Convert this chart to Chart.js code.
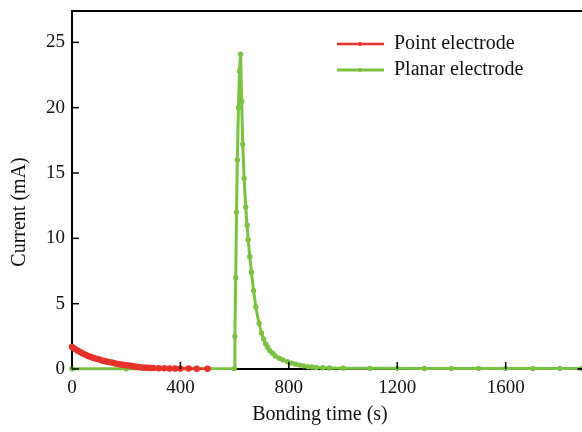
<!DOCTYPE html>
<html>
<head>
<meta charset="utf-8">
<script src="https://cdn.jsdelivr.net/npm/chart.js@4.4.0/dist/chart.umd.min.js"></script>
<style>
  body { margin: 0; background: #fff; }
  canvas { display: block; }
</style>
</head>
<body>
<canvas id="chart" width="582" height="432"></canvas>
<script>
// Point electrode (red)
const timePoint = [0, 10, 20, 30, 40, 50, 60, 70, 80, 90, 100, 110, 120, 130, 140, 150, 160, 170, 180, 190, 200, 210, 220, 230, 240, 250, 260, 270, 280, 290, 300, 320, 340, 360, 380, 400, 430, 460, 500];
const currentPoint = [1.68, 1.55, 1.42, 1.3, 1.19, 1.09, 1.0, 0.92, 0.85, 0.78, 0.72, 0.66, 0.61, 0.56, 0.51, 0.47, 0.43, 0.39, 0.35, 0.32, 0.29, 0.26, 0.23, 0.2, 0.17, 0.14, 0.12, 0.1, 0.09, 0.08, 0.07, 0.06, 0.05, 0.04, 0.04, 0.03, 0.03, 0.02, 0.02];

// Planar electrode (green)
const timePlanar = [0, 200, 400, 598, 601, 604, 607, 610, 614, 618, 622, 626, 630, 635, 641, 646, 650, 656, 662, 670, 678, 690, 699, 707, 715, 722, 730, 740, 750, 765, 778, 795, 810, 825, 840, 855, 870, 885, 900, 925, 950, 1000, 1100, 1200, 1300, 1400, 1500, 1600, 1700, 1800, 1880];
const currentPlanar = [0.02, 0.02, 0.02, 0.03, 2.5, 7, 12, 16, 20, 22.8, 24.1, 20.5, 17.2, 14.6, 12.4, 11.0, 9.9, 8.6, 7.4, 6.0, 4.75, 3.5, 2.76, 2.3, 1.9, 1.65, 1.4, 1.2, 1.0, 0.82, 0.7, 0.55, 0.45, 0.37, 0.3, 0.24, 0.18, 0.15, 0.12, 0.1, 0.08, 0.06, 0.05, 0.05, 0.04, 0.04, 0.04, 0.04, 0.04, 0.04, 0.04];

const xTicks = [0, 400, 800, 1200, 1600];
const yTicks = [0, 5, 10, 15, 20, 25];

const serif = '"Liberation Serif", "DejaVu Serif", serif';

function toPoints(xs, ys) {
    return xs.map((x, i) => ({ x: x, y: ys[i] }));
}

// frame, inward ticks, axis titles and legend
const decorations = {
    id: 'decorations',
    afterDraw(chart) {
        const ctx = chart.ctx;
        const area = chart.chartArea;
        const xs = chart.scales.x;
        const ys = chart.scales.y;
        ctx.save();
        ctx.strokeStyle = '#000';
        ctx.lineWidth = 2;
        ctx.beginPath();
        ctx.moveTo(area.left - 1, area.top);
        ctx.lineTo(582, area.top);
        ctx.moveTo(area.right, area.bottom);
        ctx.lineTo(582, area.bottom);
        ctx.stroke();

        ctx.lineWidth = 1.5;
        xTicks.forEach(v => {
            const px = xs.getPixelForValue(v);
            ctx.beginPath();
            ctx.moveTo(px, area.bottom);
            ctx.lineTo(px, area.bottom - 7);
            ctx.stroke();
        });
        yTicks.forEach(v => {
            const py = ys.getPixelForValue(v);
            ctx.beginPath();
            ctx.moveTo(area.left, py);
            ctx.lineTo(area.left + 7, py);
            ctx.stroke();
        });

        ctx.fillStyle = '#111';
        ctx.font = '20px ' + serif;
        ctx.textAlign = 'center';
        ctx.textBaseline = 'middle';
        ctx.fillText('Bonding time (s)', 320, 415);
        ctx.save();
        ctx.translate(20, 212);
        ctx.rotate(-Math.PI / 2);
        ctx.fillText('Current (mA)', 0, 0);
        ctx.restore();

        // legend
        ctx.textAlign = 'left';
        chart.data.datasets.forEach((ds, i) => {
            const y = 44 + i * 26;
            ctx.strokeStyle = ds.borderColor;
            ctx.lineWidth = ds.borderWidth;
            ctx.beginPath();
            ctx.moveTo(337, y);
            ctx.lineTo(384, y);
            ctx.stroke();
            ctx.fillStyle = ds.borderColor;
            ctx.beginPath();
            ctx.arc(360, y, 2, 0, Math.PI * 2);
            ctx.fill();
            ctx.fillStyle = '#111';
            ctx.fillText(ds.label, 394, y);
        });
        ctx.restore();
    }
};

new Chart(document.getElementById('chart'), {
    type: 'line',
    data: {
        datasets: [
            {
                label: 'Point electrode',
                data: toPoints(timePoint, currentPoint),
                borderColor: '#e8312b',
                backgroundColor: '#e8312b',
                borderWidth: 2.5,
                pointRadius: 2,
                pointHoverRadius: 0,
                tension: 0
            },
            {
                label: 'Planar electrode',
                data: toPoints(timePlanar, currentPlanar),
                borderColor: '#7cc242',
                backgroundColor: '#7cc242',
                borderWidth: 3,
                pointRadius: 1.2,
                pointHoverRadius: 0,
                tension: 0
            }
        ]
    },
    options: {
        responsive: false,
        animation: false,
        clip: false,
        layout: { padding: { top: 11, right: 0, left: 0, bottom: 0 } },
        plugins: {
            legend: { display: false },
            tooltip: { enabled: false }
        },
        scales: {
            x: {
                type: 'linear',
                min: 0,
                max: 1865,
                afterBuildTicks: scale => { scale.ticks = xTicks.map(v => ({ value: v })); },
                afterFit: scale => { scale.height = 63; scale.paddingRight = 0; },
                grid: { display: false, drawTicks: false },
                border: { display: true, color: '#000', width: 2 },
                ticks: {
                    color: '#111',
                    padding: 8,
                    maxRotation: 0,
                    font: { family: serif, size: 19 },
                    callback: v => String(v)
                }
            },
            y: {
                min: 0,
                max: 27.4,
                afterBuildTicks: scale => { scale.ticks = yTicks.map(v => ({ value: v })); },
                afterFit: scale => { scale.width = 72; scale.paddingTop = 0; scale.paddingBottom = 0; },
                grid: { display: false, drawTicks: false },
                border: { display: true, color: '#000', width: 2 },
                ticks: {
                    color: '#111',
                    padding: 7,
                    font: { family: serif, size: 19 },
                    callback: v => String(v)
                }
            }
        }
    },
    plugins: [decorations]
});
</script>
</body>
</html>
